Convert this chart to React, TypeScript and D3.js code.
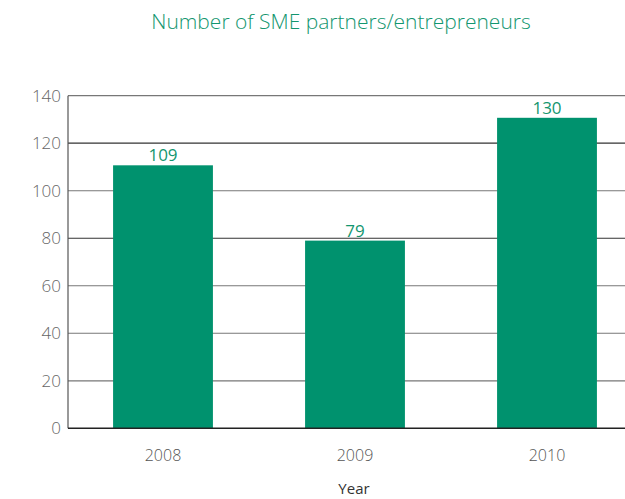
import React from "react";
import * as d3 from "d3";

const years = ["2008", "2009", "2010"];
const barValues = [110.7, 79, 130.7];
const valueLabels = ["109", "79", "130"];
const yTicks = [0, 20, 40, 60, 80, 100, 120, 140];

const W = 625;
const H = 499;
const FONT = "'Open Sans', 'DejaVu Sans', sans-serif";

export default function App() {
  const x = d3.scaleBand<string>().domain(years).range([67, 643]).paddingInner(0.48).paddingOuter(0.24);
  const y = d3.scaleLinear().domain([0, 140]).range([428.3, 95.7]);
  const left = 68;
  const right = 625;
  return (
    <svg width={W} height={H} style={{ position: "absolute", left: 0, top: 0, background: "#fff" }} fontFamily={FONT}>
      <text x={341} y={29} textAnchor="middle" fontSize={21} fill="#13966f" fontWeight={300}>
        Number of SME partners/entrepreneurs
      </text>
      {yTicks.map((t) => (
        <g key={t}>
          {t > 0 && (
            <line x1={left} x2={right} y1={y(t)} y2={y(t)} stroke={t === 120 || t === 80 ? "#333" : "#777"} strokeWidth={1.2} />
          )}
          <text x={61} y={y(t) + 6} textAnchor="end" fontSize={17} fill="#666" fontWeight={300}>
            {t}
          </text>
        </g>
      ))}
      {years.map((yr, i) => (
        <g key={yr}>
          <rect x={x(yr)!} y={y(barValues[i])} width={x.bandwidth()} height={y(0) - y(barValues[i])} fill="#00926e" />
          <text x={x(yr)! + x.bandwidth() / 2} y={y(barValues[i]) - 4} textAnchor="middle" fontSize={17} fill="#13966f" fontWeight={400}>
            {valueLabels[i]}
          </text>
          <text x={x(yr)! + x.bandwidth() / 2} y={461} textAnchor="middle" fontSize={16} fill="#555" fontWeight={300}>
            {yr}
          </text>
        </g>
      ))}
      <line x1={left} x2={left} y1={y(140)} y2={y(0)} stroke="#555" strokeWidth={1.2} />
      <line x1={left} x2={right} y1={y(0)} y2={y(0)} stroke="#222" strokeWidth={1.5} />
      <text x={354} y={494} textAnchor="middle" fontSize={15} fill="#333">
        Year
      </text>
    </svg>
  );
}
